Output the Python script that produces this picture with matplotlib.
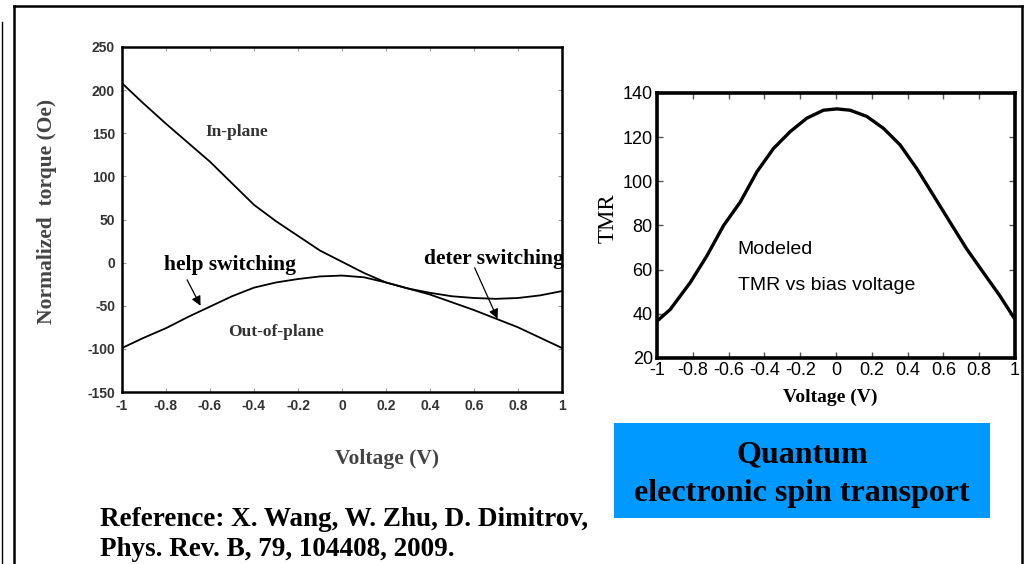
import numpy as np
import matplotlib
matplotlib.use("Agg")
import matplotlib.pyplot as plt
from matplotlib.patches import Rectangle
from matplotlib.lines import Line2D

plt.rcParams["axes.unicode_minus"] = False

# Left panel: normalized torque vs voltage
volt = [-1.0, -0.9, -0.8, -0.7, -0.6, -0.5, -0.4, -0.3, -0.2, -0.1, 0.0,
        0.1, 0.2, 0.3, 0.4, 0.5, 0.6, 0.7, 0.8, 0.9, 1.0]
in_plane = [208, 184, 161, 139, 117, 92, 67, 48, 31, 14, 1,
            -12, -23, -30, -35, -39, -41, -42, -41, -38, -33]
out_of_plane = [-99, -87, -76, -63, -51, -39, -29, -23, -19, -16, -15,
                -17, -23, -30, -37, -46, -55, -65, -75, -87, -99]
torque_yticks = [250, 200, 150, 100, 50, 0, -50, -100, -150]
volt_ticks = [-1, -0.8, -0.6, -0.4, -0.2, 0, 0.2, 0.4, 0.6, 0.8, 1]
volt_ticklabels = ["-1", "-0.8", "-0.6", "-0.4", "-0.2", "0", "0.2", "0.4", "0.6", "0.8", "1"]

# Right panel: TMR vs bias voltage
tmr_volt = [-1.0, -0.926, -0.814, -0.721, -0.628, -0.535, -0.442, -0.349, -0.256,
            -0.163, -0.07, 0.005, 0.079, 0.172, 0.265, 0.358, 0.451, 0.544,
            0.637, 0.73, 0.823, 0.916, 1.0]
tmr = [36.7, 42.0, 54.2, 66.3, 80.0, 90.6, 104.3, 114.9, 122.5,
       128.6, 132.2, 132.8, 132.2, 129.4, 124.0, 116.5, 105.8, 93.7,
       81.5, 69.4, 58.7, 48.1, 37.5]
tmr_yticks = [20, 40, 60, 80, 100, 120, 140]

SERIF = "Liberation Serif"
SANS = "Liberation Sans"

fig = plt.figure(figsize=(10.25, 5.64), dpi=100)

# slide frame lines
fig.add_artist(Line2D([14/1025, 14/1025], [0, 1 - 6/564], color="black", lw=1.8,
                      transform=fig.transFigure))
fig.add_artist(Line2D([14/1025, 1022/1025], [1 - 6/564, 1 - 6/564], color="black", lw=1.8,
                      transform=fig.transFigure))
fig.add_artist(Line2D([1022/1025, 1022/1025], [0, 1 - 6/564], color="black", lw=1.8,
                      transform=fig.transFigure))
fig.add_artist(Line2D([1.5/1025, 1.5/1025], [0, 1 - 22/564], color="black", lw=1.0,
                      transform=fig.transFigure))

# ---- left chart
ax1 = fig.add_axes([122/1025, 1 - 392/564, 440/1025, 345/564])
ax1.plot(volt, in_plane, color="black", lw=1.3)
ax1.plot(volt, out_of_plane, color="black", lw=1.3)
ax1.set_xlim(-1, 1)
ax1.set_ylim(-150, 250)
ax1.set_yticks(torque_yticks)
ax1.set_xticks(volt_ticks)
ax1.set_xticklabels(volt_ticklabels)
ax1.tick_params(direction="in", length=3, width=0.8, color="#999999",
                top=True, right=True, labelsize=10, labelcolor="#333333", pad=5)
for lab in ax1.get_xticklabels() + ax1.get_yticklabels():
    lab.set_fontfamily(SANS)
    lab.set_fontweight("bold")
for sp in ax1.spines.values():
    sp.set_linewidth(1.8)
ax1.set_ylabel("Normalized  torque (Oe)", family=SERIF, fontsize=15.5, fontweight="bold",
               color="#444444")
ax1.yaxis.set_label_coords(-65/440, 0.5 + 8/345)
ax1.set_xlabel("Voltage (V)", family=SERIF, fontsize=15.5, fontweight="bold",
               color="#444444")
ax1.xaxis.set_label_coords((387 - 122)/440, -(449 - 392)/345)

ax1.text(-0.48, 152, "In-plane", family=SERIF, fontsize=12.5, fontweight="bold",
         color="#333333", ha="center", va="center")
ax1.text(-0.3, -81, "Out-of-plane", family=SERIF, fontsize=12.5, fontweight="bold",
         color="#333333", ha="center", va="center")
ax1.text(-0.51, -3, "help switching", family=SERIF, fontsize=15.5, fontweight="bold",
         color="black", ha="center", va="center")
ax1.text(0.69, 4, "deter switching", family=SERIF, fontsize=15.5, fontweight="bold",
         color="black", ha="center", va="center", clip_on=False)
ax1.annotate("", xy=(-0.643, -50), xytext=(-0.704, -20),
             arrowprops=dict(arrowstyle="-|>", color="black", lw=0.9,
                             mutation_scale=14, shrinkA=0, shrinkB=0))
ax1.annotate("", xy=(0.707, -65), xytext=(0.603, -6),
             arrowprops=dict(arrowstyle="-|>", color="black", lw=0.9,
                             mutation_scale=14, shrinkA=0, shrinkB=0))

# ---- right chart
ax2 = fig.add_axes([657/1025, 1 - 358/564, 358/1025, 265/564])
ax2.plot(tmr_volt, tmr, color="black", lw=2.4, solid_joinstyle="round")
ax2.set_xlim(-1, 1)
ax2.set_ylim(20, 140)
ax2.set_yticks(tmr_yticks)
ax2.set_xticks(volt_ticks)
ax2.set_xticklabels(volt_ticklabels)
ax2.tick_params(direction="in", length=4, width=1.0, color="#555555",
                top=True, right=True, labelsize=13, labelcolor="black", pad=3)
for lab in ax2.get_xticklabels() + ax2.get_yticklabels():
    lab.set_fontfamily(SANS)
for sp in ax2.spines.values():
    sp.set_linewidth(2.6)
ax2.set_ylabel("TMR", family=SERIF, fontsize=16.5, color="black")
ax2.yaxis.set_label_coords(-(657 - 619)/358, 0.5 + 7/265)
ax2.set_xlabel("Voltage (V)", family=SERIF, fontsize=14, fontweight="bold",
               color="black")
ax2.xaxis.set_label_coords((830 - 657)/358, -(389 - 358)/265)
ax2.text(-0.55, 69, "Modeled", family=SANS, fontsize=14, ha="left", va="center")
ax2.text(-0.55, 53, "TMR vs bias voltage", family=SANS, fontsize=14, ha="left", va="center")

# ---- blue title box
fig.add_artist(Rectangle((614/1025, 1 - 518/564), 376/1025, 95/564,
                         facecolor="#0099ff", edgecolor="none",
                         transform=fig.transFigure))
fig.text(802/1025, 1 - 455/564, "Quantum", family=SERIF, fontsize=23,
         fontweight="bold", ha="center", va="center")
fig.text(802/1025, 1 - 493/564, "electronic spin transport", family=SERIF, fontsize=23,
         fontweight="bold", ha="center", va="center")

# ---- reference text
fig.text(100/1025, 1 - 519/564, "Reference: X. Wang, W. Zhu, D. Dimitrov,", family=SERIF,
         fontsize=19.5, fontweight="bold", ha="left", va="center")
fig.text(100/1025, 1 - 549/564, "Phys. Rev. B, 79, 104408, 2009.", family=SERIF,
         fontsize=19.5, fontweight="bold", ha="left", va="center")

fig.savefig("out.png", dpi=100)
